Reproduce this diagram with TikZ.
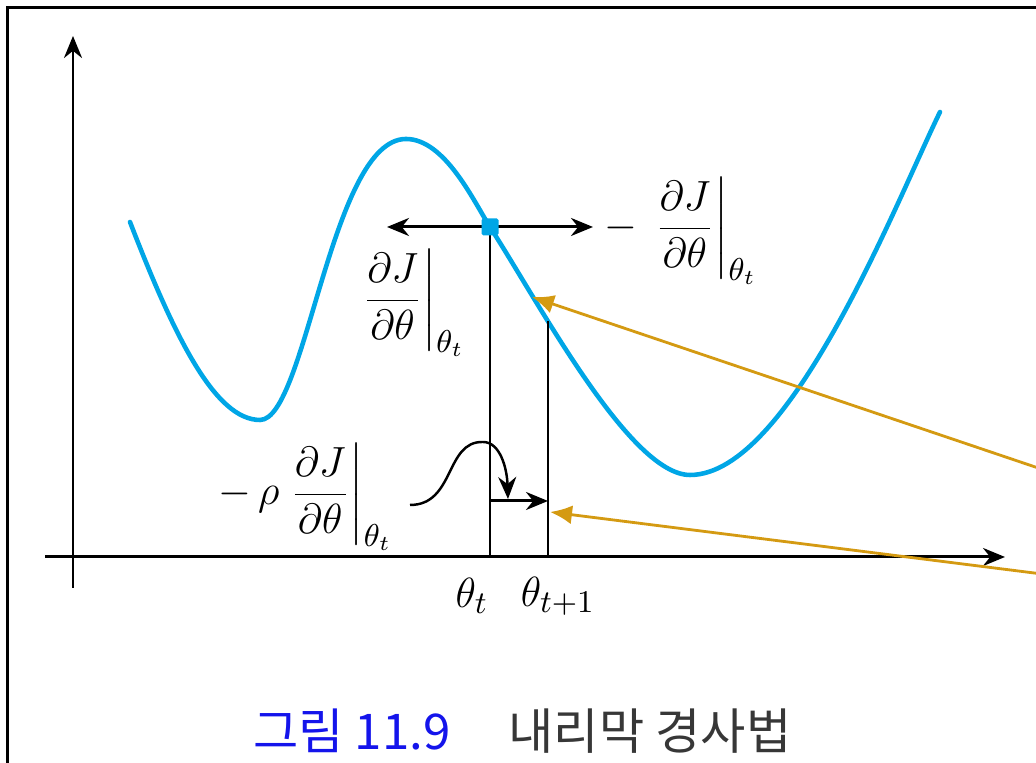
\documentclass[tikz,border=0pt]{standalone}
\usepackage{amsmath}
\usepackage{fontspec}
\newfontfamily\kr{Noto Sans CJK KR}
\usetikzlibrary{arrows.meta}
\definecolor{curveblue}{RGB}{0,166,230}
\definecolor{pointgold}{RGB}{212,154,18}
\definecolor{capblue}{RGB}{20,20,235}
\definecolor{capgray}{RGB}{55,55,55}
\newcommand{\dJ}{\left.\dfrac{\partial J}{\partial\theta}\right|_{\theta_t}}

\begin{document}
\begin{tikzpicture}[
  axisline/.style={line width=0.85pt, -{Stealth[length=2.2mm,width=1.8mm]}},
  guide/.style={line width=0.85pt},
  pointer/.style={line width=0.8pt, draw=pointgold, -{Latex[length=2.2mm,width=1.9mm]}},
  lbl/.style={inner sep=1pt, font=\fontsize{13}{15}\selectfont}]
\useasboundingbox (0,0) rectangle (10.36,7.63);

% frame (cut at the right and bottom)
\draw[line width=0.85pt] (0.075,-0.2) -- (0.075,7.555) -- (10.6,7.555);

% axes
\coordinate (xs) at (0.45,2.06);
\coordinate (xe) at (10.05,2.06);
\coordinate (ys) at (0.73,1.75);
\coordinate (ye) at (0.73,7.27);
\draw[axisline] (xs) -- (xe);
\draw[axisline] (ys) -- (ye);

% cost curve
\draw[curveblue, line width=1.3pt, line cap=round]
  (1.30,5.41) .. controls (1.74,4.27) and (2.15,3.43) .. (2.60,3.43)
  .. controls (3.06,3.43) and (3.31,6.24) .. (4.06,6.24)
  .. controls (4.45,6.24) and (4.74,5.61) .. (4.90,5.36)
  .. controls (5.39,4.60) and (6.30,2.88) .. (6.90,2.88)
  .. controls (7.90,2.88) and (8.96,5.61) .. (9.40,6.51);

% gradient at theta_t
\coordinate (la) at (3.87,5.36);
\coordinate (ra) at (5.93,5.36);
\draw[guide, {Stealth[length=2.2mm,width=1.8mm]}-{Stealth[length=2.2mm,width=1.8mm]}] (la) -- (ra);
\coordinate (tt) at (4.90,2.06);
\coordinate (tn) at (5.48,2.06);
\coordinate (cn) at (5.48,4.42);
\draw[guide] (4.90,5.36) -- (tt);
\draw[guide] (cn) -- (tn);
\node[rectangle, rounded corners=0.5pt, fill=curveblue, minimum size=0.17cm, inner sep=0pt] (p) at (4.90,5.36) {};

% step
\coordinate (s0) at (4.90,2.62);
\coordinate (s1) at (5.48,2.62);
\draw[guide, -{Stealth[length=2.2mm,width=1.8mm]}] (s0) -- (s1);
\coordinate (c0) at (4.10,2.58);
\coordinate (c1) at (5.08,2.64);
\draw[line width=0.7pt, -{Stealth[length=2.2mm,width=1.8mm]}] (c0) .. controls (4.55,2.58) and (4.45,3.22) .. (4.83,3.21)
  .. controls (5.00,3.21) and (5.07,2.95) .. (c1);

% labels
\node[lbl, anchor=west] (gr) at (6.00,5.32) {$-\,\dJ$};
\node[lbl] (gl) at (4.12,4.60) {$\dJ$};
\node[lbl, anchor=west] (stp) at (2.14,2.66) {$-\,\rho\dJ$};
\node[lbl] (lt) at (4.72,1.67) {$\theta_t$};
\node[lbl] (ltn) at (5.58,1.67) {$\theta_{t+1}$};

% pointers from outside the frame
\coordinate (o1) at (10.50,2.91);
\coordinate (o2) at (10.50,1.88);
\coordinate (q1) at (5.32,4.66);
\coordinate (q2) at (5.50,2.51);
\draw[pointer] (o1) -- (q1);
\draw[pointer] (o2) -- (q2);

% caption
\node[font=\kr\fontsize{14}{16}\selectfont, text=capblue] (cap) at (3.52,0.32) {그림 11.9};
\node[font=\kr\fontsize{14}{16}\selectfont, text=capgray] (capt) at (6.50,0.32) {내리막 경사법};
\end{tikzpicture}
\end{document}
